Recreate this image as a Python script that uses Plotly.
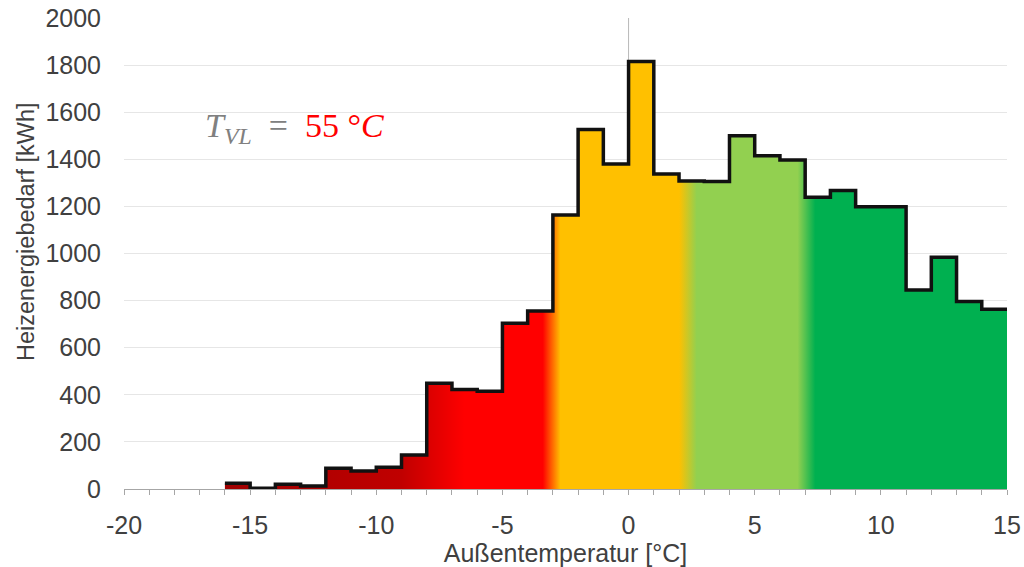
import plotly.graph_objects as go

# Data: heat energy demand per 1 °C outdoor temperature bin (left edge of bin)
bin_left = list(range(-16, 15))
demand_kwh = [24, 3, 20, 13, 88, 76, 92, 144, 449, 423, 415, 704, 756,
              1163, 1527, 1380, 1815, 1338, 1308, 1306, 1500, 1415, 1397,
              1239, 1267, 1199, 1199, 845, 984, 796, 763]

x_tickvals = [-20, -15, -10, -5, 0, 5, 10, 15]
x_ticktext = ["-20", "-15", "-10", "-5", "0", "5", "10", "15"]
y_tickvals = list(range(0, 2001, 200))

# gradient colour stops along the temperature axis (°C, colour)
grad_stops = [(-16, "#a00000"), (-9, "#c00000"), (-6.5, "#ff0000"), (-3.4, "#ff0000"),
              (-2.7, "#ffc000"), (2.0, "#ffc000"), (2.7, "#92d050"), (6.7, "#92d050"),
              (7.4, "#00b050"), (15, "#00b050")]

x_edges = bin_left + [bin_left[-1] + 1]
y_step = demand_kwh + [demand_kwh[-1]]

g0, g1 = grad_stops[0][0], grad_stops[-1][0]
colorscale = [[(t - g0) / (g1 - g0), c] for t, c in grad_stops]

fig = go.Figure()

# vertical reference line at 0 °C
fig.add_shape(type="line", x0=0, x1=0, y0=0, y1=2000, xref="x", yref="y",
              line=dict(color="#b8b8b8", width=1), layer="below")

fig.add_trace(go.Scatter(
    x=x_edges, y=y_step, mode="none", line_shape="hv", fill="tozeroy",
    fillgradient=dict(type="horizontal", colorscale=colorscale, start=g0, stop=g1),
    hoverinfo="skip", showlegend=False))

fig.add_trace(go.Scatter(
    x=x_edges, y=y_step, mode="lines", line_shape="hv",
    line=dict(color="#111111", width=3.5), showlegend=False))

fig.add_annotation(
    x=-16.85, y=1535, xref="x", yref="y", xanchor="left", yanchor="middle",
    showarrow=False,
    text="<i>T</i><sub><i>VL</i></sub>&nbsp;&nbsp;=&nbsp;&nbsp;<span style='color:#ff0000'>55&nbsp;°<i>C</i></span>",
    font=dict(family="Liberation Serif", size=34, color="#808080"))

tick_font = dict(family="Liberation Sans, Arial", size=25, color="#404040")

# y-axis title placed as rotated annotation
fig.add_annotation(
    x=(26 - 124) / 883, y=(489 - 232) / 471, xref="paper", yref="paper",
    xanchor="center", yanchor="middle", textangle=-90, showarrow=False,
    text="Heizenergiebedarf [kWh]",
    font=dict(family="Liberation Sans, Arial", size=23.5, color="#404040"))

fig.update_layout(
    width=1024, height=567,
    margin=dict(l=124, r=17, t=18, b=78, autoexpand=False),
    paper_bgcolor="white", plot_bgcolor="white",
    font=tick_font,
    xaxis=dict(range=[-20, 15], tickvals=x_tickvals, ticktext=x_ticktext,
               automargin=False,
               showline=True, linecolor="#a6a6a6", linewidth=1,
               ticks="outside", ticklen=5, tickcolor="#a6a6a6",
               minor=dict(dtick=1, tick0=0, ticks="outside", ticklen=5, tickcolor="#a6a6a6", showgrid=False),
               showgrid=False, zeroline=False, ticklabelstandoff=9,
               title=dict(text="Außentemperatur [°C]", font=tick_font, standoff=4),
               tickfont=tick_font),
    yaxis=dict(range=[0, 2000], tickvals=y_tickvals, automargin=False,
               showgrid=True, gridcolor="#e6e6e6", gridwidth=1,
               zeroline=False, showline=False, ticks="",
               ticklabelstandoff=22,
               tickfont=tick_font),
)

fig.write_html("out.html")
